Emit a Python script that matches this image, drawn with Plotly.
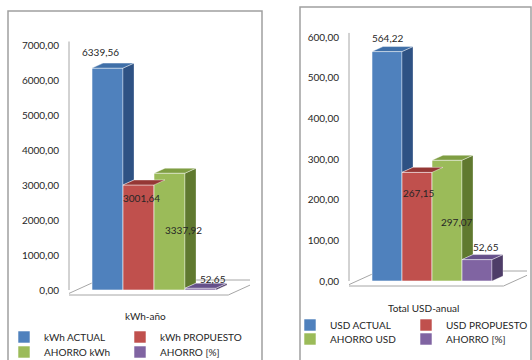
import plotly.graph_objects as go

# ---------------- data ----------------
categories_kwh = ["kWh ACTUAL", "kWh PROPUESTO", "AHORRO kWh", "AHORRO [%]"]
values_kwh = [6339.56, 3001.64, 3337.92, 52.65]
categories_usd = ["USD ACTUAL", "USD PROPUESTO", "AHORRO USD", "AHORRO [%]"]
values_usd = [564.22, 267.15, 297.07, 52.65]
title_kwh = "kWh-año"
title_usd = "Total USD-anual"
ticks_kwh = [0, 1000, 2000, 3000, 4000, 5000, 6000, 7000]
ticks_usd = [0, 100, 200, 300, 400, 500, 600]

# ---------------- style ----------------
W, H = 532, 360
FONT = "Lato"
TXT = "#262626"
front_colors = ["#4F81BD", "#C0504D", "#9BBB59", "#8064A2"]
top_colors = ["#3F6FA8", "#953735", "#7F9E43", "#65508A"]
side_colors = ["#2E5284", "#8C3836", "#60792F", "#4E3D68"]


def fmt(v):
    return f"{v:.2f}".replace(".", ",")


def px_x(p):
    return p / W


def px_y(p):
    return 1 - p / H


panels = [
    dict(cats=categories_kwh, vals=values_kwh, ticks=ticks_kwh, title=title_kwh,
         ax_px=69, right_px=250, unit=31.0, bar0_px=107.5,
         zero_px=290, scale=245 / 7000, top_px=30, bot_px=312,
         axis_top=7100, title_pos=(145, 316),
         label_shift=[(-7.5, 16), (2.5, -13), (13.5, -57), (12.5, 9)],
         legend_pos=[(4, 337), (120, 337), (4, 352), (120, 352)],
         box=(8, 11, 262, 362)),
    dict(cats=categories_usd, vals=values_usd, ticks=ticks_usd, title=title_usd,
         ax_px=349, right_px=527, unit=30.0, bar0_px=387,
         zero_px=281, scale=244 / 600, top_px=25, bot_px=305,
         axis_top=610, title_pos=(423, 308),
         label_shift=[(0, 13.5), (1, -20.6), (9, -62), (9, 13)],
         legend_pos=[(290, 325), (406, 325), (290, 339), (406, 339)],
         box=(300, 7, 531, 362)),
]

fig = go.Figure()
shapes = []
annotations = []
layout_axes = {}
legend_layout = {}
legend_common = dict(orientation="h", xanchor="left", yanchor="middle", itemwidth=30,
                     bgcolor="rgba(0,0,0,0)", borderwidth=0,
                     font=dict(family=FONT, size=10, color=TXT))

DX_PX, DY_PX = 11, 5
legend_counter = 0

for k, p in enumerate(panels):
    xa = "x" if k == 0 else "x2"
    ya = "y" if k == 0 else "y2"
    xname = "xaxis" if k == 0 else "xaxis2"
    yname = "yaxis" if k == 0 else "yaxis2"
    n = len(p["vals"])
    dx = DX_PX / p["unit"]
    dy = DY_PX / p["scale"]

    x0 = -(p["bar0_px"] - p["ax_px"]) / p["unit"]
    x1 = (p["right_px"] - p["bar0_px"]) / p["unit"]
    y0 = (p["zero_px"] - p["bot_px"]) / p["scale"]
    y1 = (p["zero_px"] - p["top_px"]) / p["scale"]

    layout_axes[xname] = dict(domain=[px_x(p["ax_px"]), px_x(p["right_px"])],
                              range=[x0, x1], visible=False, anchor=ya, automargin=False)
    layout_axes[yname] = dict(domain=[px_y(p["bot_px"]), px_y(p["top_px"])],
                              range=[y0, y1], tickvals=p["ticks"],
                              ticktext=[fmt(t) for t in p["ticks"]],
                              showgrid=False, zeroline=False, showline=False,
                              ticks="", ticklabelstandoff=9, anchor=xa, automargin=False,
                              tickfont=dict(family=FONT, size=10, color=TXT))

    # floor (behind bars)
    fx0, fx1 = -1.0, n + 0.25
    corners = [(fx0 - dx, -dy), (fx1 - dx, -dy), (fx1 + 2 * dx, 2 * dy), (fx0 + 2 * dx, 2 * dy)]
    path = "M " + " L ".join(f"{cx},{cy}" for cx, cy in corners) + " Z"
    shapes.append(dict(type="path", path=path, xref=xa, yref=ya, layer="below",
                       fillcolor="white", line=dict(color="#A6A6A6", width=1)))
    # vertical axis line
    shapes.append(dict(type="line", xref=xa + " domain", yref=ya, x0=0, x1=0,
                       y0=0, y1=p["axis_top"], line=dict(color="#A6A6A6", width=1)))
    # outer chart box
    bx0, by0, bx1, by1 = p["box"]
    shapes.append(dict(type="rect", xref="paper", yref="paper",
                       x0=px_x(bx0), x1=px_x(bx1), y0=px_y(by1), y1=px_y(by0),
                       line=dict(color="#A0A0A0", width=1.5), layer="below"))

    # front faces (real bars), each with its own positioned legend
    for i, (c, v) in enumerate(zip(p["cats"], p["vals"])):
        legend_counter += 1
        lg = "legend" if legend_counter == 1 else f"legend{legend_counter}"
        lx, ly = p["legend_pos"][i]
        legend_layout[lg] = dict(legend_common, x=px_x(lx), y=px_y(ly))
        fig.add_trace(go.Bar(x=[i], y=[v], width=1.0, name=c, xaxis=xa, yaxis=ya,
                             marker=dict(color=front_colors[i],
                                         line=dict(color="rgba(255,255,255,0.7)", width=0.8)),
                             legend=lg, hoverinfo="skip"))

    # side and top faces
    for i, v in enumerate(p["vals"]):
        xr = i + 0.5
        xl = i - 0.5
        nxt = p["vals"][i + 1] if i + 1 < n else 0.0
        if nxt < v:
            b = nxt
            fig.add_trace(go.Scatter(
                x=[xr, xr + dx, xr + dx, xr, xr],
                y=[b, b + dy, v + dy, v, b],
                xaxis=xa, yaxis=ya, mode="lines", fill="toself",
                fillcolor=side_colors[i], line=dict(color="rgba(255,255,255,0.5)", width=0.6),
                showlegend=False, hoverinfo="skip"))
        fig.add_trace(go.Scatter(
            x=[xl, xr, xr + dx, xl + dx, xl],
            y=[v, v, v + dy, v + dy, v],
            xaxis=xa, yaxis=ya, mode="lines", fill="toself",
            fillcolor=top_colors[i], line=dict(color="rgba(255,255,255,0.7)", width=0.6),
            showlegend=False, hoverinfo="skip"))

    # data labels
    for i, v in enumerate(p["vals"]):
        xs, ys = p["label_shift"][i]
        annotations.append(dict(x=i, y=v, xref=xa, yref=ya, text=fmt(v), showarrow=False,
                                xshift=xs, yshift=ys, xanchor="center", yanchor="middle",
                                font=dict(family=FONT, size=10, color=TXT)))

    # category title
    tx, ty = p["title_pos"]
    annotations.append(dict(x=px_x(tx), y=px_y(ty), xref="paper", yref="paper",
                            text=p["title"], showarrow=False,
                            xanchor="center", yanchor="middle",
                            font=dict(family=FONT, size=10, color=TXT)))

fig.update_layout(
    width=W, height=H,
    margin=dict(l=0, r=0, t=0, b=0, autoexpand=False),
    paper_bgcolor="white", plot_bgcolor="rgba(0,0,0,0)",
    barmode="overlay", separators=",.",
    showlegend=True,
    shapes=shapes, annotations=annotations,
    font=dict(family=FONT, size=10, color=TXT),
    **layout_axes, **legend_layout,
)

fig.write_html("out.html")
